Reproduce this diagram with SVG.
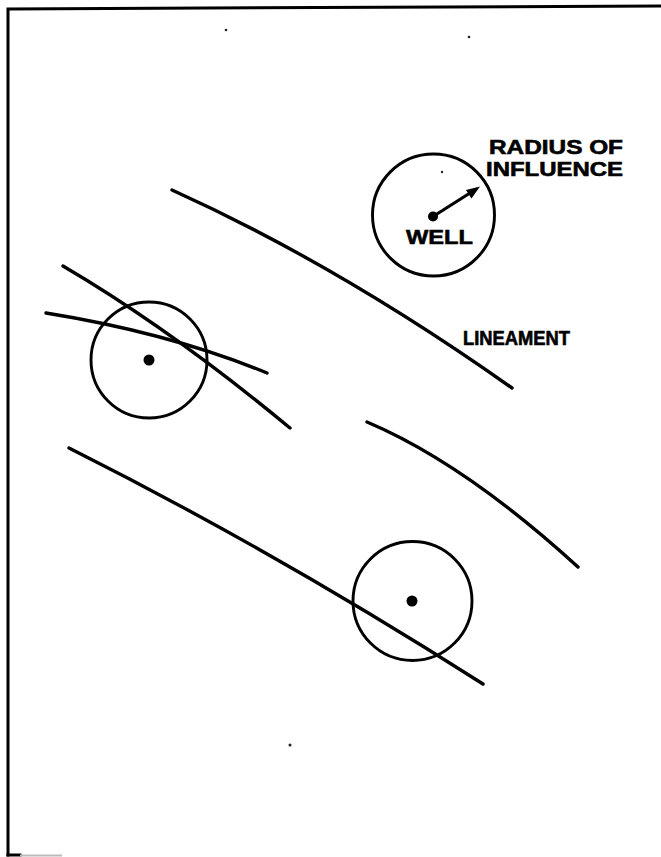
<svg xmlns="http://www.w3.org/2000/svg" width="661" height="857" viewBox="0 0 661 857">
  <style>
    .frame { fill: none; stroke: #000; stroke-width: 3; stroke-linecap: square; }
    .lin { fill: none; stroke: #000; stroke-width: 3.4; stroke-linecap: round; }
    .ring { fill: none; stroke: #000; stroke-width: 2.9; }
    .dot { fill: #000; }
    .speck { fill: #222; }
    .lbl { font-family: "Liberation Sans", Arial, sans-serif; font-weight: bold; fill: #000; stroke: #000; stroke-width: 0.6; }
  </style>
  <rect width="661" height="857" fill="#fff"/>
  <g id="frame">
    <path class="frame" d="M8,855 L8,9 L661,6"/>
    <path class="frame" d="M8,855 L20,855"/>
    <path d="M20,855.5 L62,855.5" stroke="#bbb" stroke-width="2" fill="none"/>
  </g>
  <g id="specks">
    <circle class="speck" cx="226" cy="30" r="1.3"/>
    <circle class="speck" cx="469" cy="37" r="1.3"/>
    <circle class="speck" cx="442" cy="172" r="1.2"/>
    <circle class="speck" cx="290" cy="745" r="1.5"/>
  </g>
  <g id="lineaments">
    <path class="lin" d="M172,190 Q338,265 512,388"/>
    <path class="lin" d="M367,422 Q464,463 578,567"/>
    <path class="lin" d="M69,448 Q276,552 483,684"/>
    <path class="lin" d="M63,266 Q172,330 290,428"/>
    <path class="lin" d="M46,313 Q170,333 267,373"/>
  </g>
  <g id="well-1">
    <circle class="ring" cx="433.5" cy="215" r="61"/>
    <circle class="dot" cx="433" cy="216.5" r="5"/>
    <line x1="433" y1="216.5" x2="470" y2="193" stroke="#000" stroke-width="3.2"/>
    <polygon class="dot" points="480,186.5 471.5,198.5 466,190"/>
    <text class="lbl" x="406" y="244" font-size="21" textLength="67" lengthAdjust="spacingAndGlyphs">WELL</text>
  </g>
  <g id="well-2">
    <circle class="ring" cx="149" cy="360" r="58"/>
    <circle class="dot" cx="149" cy="360" r="5.5"/>
  </g>
  <g id="well-3">
    <circle class="ring" cx="412.5" cy="601" r="59.5"/>
    <circle class="dot" cx="412" cy="601" r="5.5"/>
  </g>
  <g id="label-radius">
    <text class="lbl" x="489" y="154" font-size="19.5" textLength="134" lengthAdjust="spacingAndGlyphs">RADIUS OF</text>
    <text class="lbl" x="486" y="176" font-size="19.5" textLength="137" lengthAdjust="spacingAndGlyphs">INFLUENCE</text>
  </g>
  <g id="label-lineament">
    <text class="lbl" x="463" y="345" font-size="19.5" textLength="107" lengthAdjust="spacingAndGlyphs">LINEAMENT</text>
  </g>
</svg>
